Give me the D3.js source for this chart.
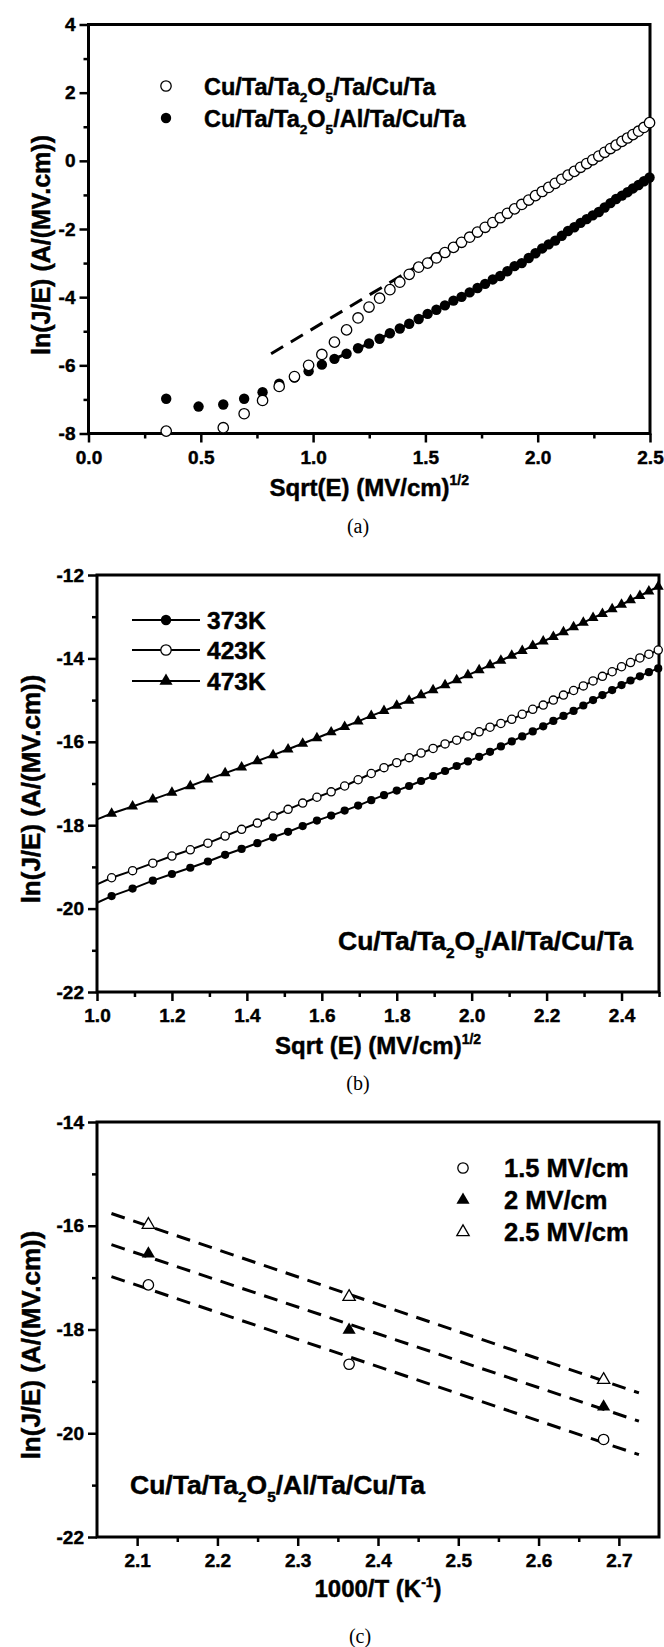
<!DOCTYPE html>
<html>
<head>
<meta charset="utf-8">
<script src="https://cdn.jsdelivr.net/npm/d3@7"></script>
<style>
    body { margin: 0; background: #fff; }
    text { font-family: "Liberation Sans", Arial, sans-serif; font-weight: bold; fill: #000; stroke: #000; stroke-width: 0.45px; }
    text.caption { font-family: "Liberation Serif", "Times New Roman", serif; font-weight: normal; stroke: none; }
</style>
</head>
<body>
<svg id="fig" width="664" height="1647"></svg>
<script>
"use strict";

// ---- (a) ln(J/E) vs sqrt(E), E stepped by 0.12 MV/cm ----
const sqrtE = [0.346, 0.490, 0.600, 0.693, 0.775, 0.849, 0.917, 0.980, 1.039, 1.095,
    1.149, 1.200, 1.249, 1.296, 1.342, 1.386, 1.428, 1.470, 1.510, 1.549,
    1.587, 1.625, 1.661, 1.697, 1.732, 1.766, 1.800, 1.833, 1.865, 1.897,
    1.929, 1.960, 1.990, 2.020, 2.049, 2.078, 2.107, 2.135, 2.163, 2.191,
    2.218, 2.245, 2.272, 2.298, 2.324, 2.349, 2.375, 2.400, 2.424, 2.449,
    2.473, 2.498];
const aOpen = [-7.93, null, -7.83, -7.42, -7.03, -6.62, -6.33, -6.00, -5.68, -5.32,
    -4.96, -4.61, -4.29, -4.03, -3.78, -3.56, -3.33, -3.12, -3.00, -2.85,
    -2.69, -2.54, -2.39, -2.24, -2.09, -1.95, -1.81, -1.67, -1.54, -1.41,
    -1.28, -1.15, -1.02, -0.90, -0.78, -0.66, -0.54, -0.42, -0.31, -0.19,
    -0.08, 0.03, 0.14, 0.25, 0.36, 0.46, 0.57, 0.67, 0.77, 0.87,
    0.98, 1.12];
const aFilled = [-6.98, -7.21, -7.15, -6.98, -6.79, -6.54, -6.36, -6.17, -5.98, -5.81,
    -5.66, -5.50, -5.36, -5.22, -5.06, -4.92, -4.78, -4.64, -4.49, -4.37,
    -4.24, -4.10, -3.99, -3.86, -3.73, -3.61, -3.48, -3.38, -3.24, -3.09,
    -3.00, -2.85, -2.71, -2.57, -2.45, -2.34, -2.20, -2.06, -1.95, -1.82,
    -1.71, -1.60, -1.50, -1.37, -1.24, -1.12, -1.02, -0.92, -0.81, -0.71,
    -0.60, -0.49];
const aFitX = [0.813, 2.5];
const aFitY = [-5.66, 1.0];
const aLegend = [
    ["Cu/Ta/Ta", ["2", "sub"], "O", ["5", "sub"], "/Ta/Cu/Ta"],
    ["Cu/Ta/Ta", ["2", "sub"], "O", ["5", "sub"], "/Al/Ta/Cu/Ta"],
];

// ---- (b) same plot at three temperatures (points from sqrt(E) = 1.039) ----
const bTemps = ["373K", "423K", "473K"];
const bStartX = 1.0;
const bStartY = [-19.86, -19.42, -17.86];
const b373 = [-19.70, -19.52, -19.33, -19.17, -19.02, -18.87, -18.71, -18.57, -18.43, -18.29,
    -18.16, -18.02, -17.89, -17.77, -17.65, -17.53, -17.40, -17.28, -17.17, -17.06,
    -16.94, -16.82, -16.70, -16.58, -16.47, -16.36, -16.24, -16.11, -15.99, -15.87,
    -15.75, -15.63, -15.50, -15.38, -15.26, -15.13, -15.00, -14.88, -14.76, -14.64,
    -14.53, -14.43, -14.33, -14.24];
const b423 = [-19.26, -19.09, -18.91, -18.74, -18.59, -18.43, -18.26, -18.10, -17.95, -17.78,
    -17.62, -17.47, -17.33, -17.20, -17.06, -16.91, -16.76, -16.62, -16.50, -16.38,
    -16.27, -16.16, -16.05, -15.96, -15.86, -15.76, -15.65, -15.56, -15.46, -15.34,
    -15.22, -15.12, -15.00, -14.88, -14.77, -14.66, -14.54, -14.43, -14.32, -14.20,
    -14.10, -13.99, -13.90, -13.80];
const b473 = [-17.72, -17.55, -17.38, -17.22, -17.06, -16.90, -16.75, -16.61, -16.46, -16.32,
    -16.18, -16.04, -15.91, -15.77, -15.64, -15.51, -15.38, -15.26, -15.13, -15.01,
    -14.88, -14.76, -14.64, -14.52, -14.40, -14.28, -14.16, -14.05, -13.93, -13.82,
    -13.70, -13.59, -13.48, -13.37, -13.25, -13.14, -13.03, -12.93, -12.82, -12.71,
    -12.60, -12.50, -12.39, -12.28];

// ---- (c) Arrhenius plot ----
const cX = [2.114, 2.364, 2.681];
const cFields = ["1.5 MV/cm", "2 MV/cm", "2.5 MV/cm"];
const c15 = [-17.14, -18.67, -20.12];
const c20 = [-16.54, -18.01, -19.49];
const c25 = [-15.98, -17.37, -18.97];
const cFitX = [2.068, 2.725];

const material = ["Cu/Ta/Ta", ["2", "sub"], "O", ["5", "sub"], "/Al/Ta/Cu/Ta"];
const yTitle = ["ln(J/E) (A/(MV.cm))"];

// layout
const pa = { left: 88.5, right: 650, top: 24.5, bottom: 433.5 };
const pb = { left: 97, right: 659, top: 575, bottom: 992 };
const pc = { left: 97, right: 659, top: 1122, bottom: 1537 };

const svg = d3.select("#fig");

// text with sub/superscripts: parts are strings or [string, "sub"|"sup"]
const addText = (g, x, y, parts, size, anchor) => {
    const t = g.append("text").attr("x", x).attr("y", y)
        .attr("font-size", size).attr("text-anchor", anchor || "start");
    let shift = 0;
    parts.forEach((p) => {
        const s = typeof p === "string" ? p : p[0];
        const kind = typeof p === "string" ? "" : p[1];
        const target = kind === "sub" ? size * 0.3 : (kind === "sup" ? -size * 0.42 : 0);
        t.append("tspan").attr("dy", target - shift)
            .attr("font-size", kind ? size * 0.58 : size).text(s);
        shift = target;
    });
    return t;
};

const drawAxes = (p, x, y, xMajor, xMinor, yMajor, yMinor, xFmt) => {
    const g = svg.append("g");
    const bx = g.append("g").attr("transform", `translate(0,${p.bottom})`);
    bx.append("g").call(d3.axisBottom(x).tickValues(xMinor).tickSize(5).tickFormat(""));
    bx.append("g").call(d3.axisBottom(x).tickValues(xMajor).tickSize(9).tickPadding(8).tickFormat(xFmt));
    const ly = g.append("g").attr("transform", `translate(${p.left},0)`);
    ly.append("g").call(d3.axisLeft(y).tickValues(yMinor).tickSize(5).tickFormat(""));
    ly.append("g").call(d3.axisLeft(y).tickValues(yMajor).tickSize(9).tickPadding(4).tickFormat((d) => String(d)));
    g.selectAll(".domain").remove();
    g.selectAll(".tick line").attr("stroke", "#000").attr("stroke-width", 2.5);
    g.selectAll(".tick text").attr("font-size", 19)
        .attr("font-family", "Liberation Sans, Arial, sans-serif").attr("font-weight", "bold");
    g.append("rect").attr("x", p.left).attr("y", p.top)
        .attr("width", p.right - p.left).attr("height", p.bottom - p.top)
        .attr("fill", "none").attr("stroke", "#000").attr("stroke-width", 3);
    return g;
};

const range = (a, b, s) => d3.range(Math.round((b - a) / s) + 1).map((i) => +(a + i * s).toFixed(3));

const openCircle = (sel, r) => sel.attr("r", r).attr("fill", "#fff").attr("stroke", "#000").attr("stroke-width", 1.3);
const fillCircle = (sel, r) => sel.attr("r", r).attr("fill", "#000");

// ================= (a) =================
{
    const x = d3.scaleLinear().domain([0, 2.5]).range([pa.left, pa.right]);
    const y = d3.scaleLinear().domain([-8, 4]).range([pa.bottom, pa.top]);
    drawAxes(pa, x, y, range(0, 2.5, 0.5), range(0.25, 2.25, 0.5), range(-8, 4, 2), range(-7, 3, 2), (d) => d.toFixed(1));

    const g = svg.append("g");
    const open = sqrtE.map((v, i) => ({ x: v, y: aOpen[i] })).filter((d) => d.y !== null);
    const filled = sqrtE.map((v, i) => ({ x: v, y: aFilled[i] }));
    const line = d3.line().x((d) => x(d.x)).y((d) => y(d.y));

    g.append("path").datum(aFitX.map((v, i) => ({ x: v, y: aFitY[i] })))
        .attr("d", line).attr("fill", "none").attr("stroke", "#000")
        .attr("stroke-width", 3).attr("stroke-dasharray", "14,9");
    g.append("path").datum(filled.filter((d) => d.x > 1.09))
        .attr("d", line).attr("fill", "none").attr("stroke", "#000")
        .attr("stroke-width", 3).attr("stroke-dasharray", "14,9");

    g.selectAll("circle.f").data(filled).join("circle").attr("class", "f")
        .attr("cx", (d) => x(d.x)).attr("cy", (d) => y(d.y)).call(fillCircle, 5.2);
    g.selectAll("circle.o").data(open).join("circle").attr("class", "o")
        .attr("cx", (d) => x(d.x)).attr("cy", (d) => y(d.y)).call(openCircle, 5.2);

    // legend
    svg.append("circle").attr("cx", 166).attr("cy", 86).call(openCircle, 5.2);
    svg.append("circle").attr("cx", 166).attr("cy", 118).call(fillCircle, 5.2);
    addText(svg, 204, 95, aLegend[0], 23.5);
    addText(svg, 204, 127, aLegend[1], 23.5);

    addText(svg, (pa.left + pa.right) / 2, pa.bottom + 62, ["Sqrt(E) (MV/cm)", ["1/2", "sup"]], 24, "middle");
    addText(svg, 0, 0, yTitle, 25, "middle")
        .attr("transform", `translate(50,245) rotate(-90)`);
    svg.append("text").attr("class", "caption").attr("x", 358).attr("y", 533)
        .attr("font-size", 20).attr("text-anchor", "middle").text("(a)");
}

// ================= (b) =================
{
    const x = d3.scaleLinear().domain([1.0, 2.5]).range([pb.left, pb.right]);
    const y = d3.scaleLinear().domain([-22, -12]).range([pb.bottom, pb.top]);
    drawAxes(pb, x, y, range(1.0, 2.4, 0.2), range(1.1, 2.5, 0.2), range(-22, -12, 2), range(-21, -13, 2), (d) => d.toFixed(1));

    const g = svg.append("g");
    const xs = sqrtE.slice(8);
    const series = [b373, b423, b473].map((vals) => vals.map((v, j) => ({ x: xs[j], y: v })));
    const line = d3.line().x((d) => x(d.x)).y((d) => y(d.y));
    const tri = (size) => d3.symbol().type(d3.symbolTriangle).size(size)();

    series.forEach((s, i) => {
        g.append("path").datum([{ x: bStartX, y: bStartY[i] }].concat(s))
            .attr("d", line).attr("fill", "none").attr("stroke", "#000").attr("stroke-width", 2);
    });
    g.selectAll("circle.b373").data(series[0]).join("circle").attr("class", "b373")
        .attr("cx", (d) => x(d.x)).attr("cy", (d) => y(d.y)).call(fillCircle, 4.1);
    g.selectAll("circle.b423").data(series[1]).join("circle").attr("class", "b423")
        .attr("cx", (d) => x(d.x)).attr("cy", (d) => y(d.y)).call(openCircle, 4.1);
    g.selectAll("path.b473").data(series[2]).join("path").attr("class", "b473")
        .attr("d", tri(52)).attr("transform", (d) => `translate(${x(d.x)},${y(d.y)})`);

    // legend
    const rows = [620, 650, 681];
    rows.forEach((ry, i) => {
        svg.append("line").attr("x1", 132).attr("x2", 200).attr("y1", ry).attr("y2", ry)
            .attr("stroke", "#000").attr("stroke-width", 2);
        if (i === 0) svg.append("circle").attr("cx", 166).attr("cy", ry).call(fillCircle, 5.2);
        if (i === 1) svg.append("circle").attr("cx", 166).attr("cy", ry).call(openCircle, 5.2);
        if (i === 2) svg.append("path").attr("d", tri(75)).attr("transform", `translate(166,${ry})`);
        addText(svg, 207, ry + 8.5, [bTemps[i]], 24.5);
    });

    addText(svg, 338, 950, material, 26.5);
    addText(svg, (pb.left + pb.right) / 2, pb.bottom + 62, ["Sqrt (E) (MV/cm)", ["1/2", "sup"]], 24, "middle");
    addText(svg, 0, 0, yTitle, 26, "middle")
        .attr("transform", `translate(40,789) rotate(-90)`);
    svg.append("text").attr("class", "caption").attr("x", 358).attr("y", 1090)
        .attr("font-size", 20).attr("text-anchor", "middle").text("(b)");
}

// ================= (c) =================
{
    const x = d3.scaleLinear().domain([2.05, 2.75]).range([pc.left, pc.right]);
    const y = d3.scaleLinear().domain([-22, -14]).range([pc.bottom, pc.top]);
    drawAxes(pc, x, y, range(2.1, 2.7, 0.1), range(2.15, 2.65, 0.1), range(-22, -14, 2), range(-21, -15, 2), (d) => d.toFixed(1));

    const g = svg.append("g");
    const line = d3.line().x((d) => x(d.x)).y((d) => y(d.y));
    const tri = (size) => d3.symbol().type(d3.symbolTriangle).size(size)();
    const sets = [c15, c20, c25];

    // least squares fit line for each field
    sets.forEach((vals) => {
        const mx = d3.mean(cX);
        const my = d3.mean(vals);
        const slope = d3.sum(cX, (v, i) => (v - mx) * (vals[i] - my)) / d3.sum(cX, (v) => (v - mx) ** 2);
        g.append("path").datum(cFitX.map((v) => ({ x: v, y: my + slope * (v - mx) })))
            .attr("d", line).attr("fill", "none").attr("stroke", "#000")
            .attr("stroke-width", 3).attr("stroke-dasharray", "14,9");
    });

    g.selectAll("circle.c15").data(cX.map((v, i) => ({ x: v, y: c15[i] }))).join("circle")
        .attr("class", "c15").attr("cx", (d) => x(d.x)).attr("cy", (d) => y(d.y)).call(openCircle, 5.2);
    g.selectAll("path.c20").data(cX.map((v, i) => ({ x: v, y: c20[i] }))).join("path")
        .attr("class", "c20").attr("d", tri(75))
        .attr("transform", (d) => `translate(${x(d.x)},${y(d.y)})`);
    g.selectAll("path.c25").data(cX.map((v, i) => ({ x: v, y: c25[i] }))).join("path")
        .attr("class", "c25").attr("d", tri(66)).attr("fill", "#fff").attr("stroke", "#000").attr("stroke-width", 1.3)
        .attr("transform", (d) => `translate(${x(d.x)},${y(d.y)})`);

    // legend
    const rows = [1168, 1200, 1232];
    svg.append("circle").attr("cx", 463).attr("cy", rows[0]).call(openCircle, 5.2);
    svg.append("path").attr("d", tri(75)).attr("transform", `translate(463,${rows[1]})`);
    svg.append("path").attr("d", tri(66)).attr("fill", "#fff").attr("stroke", "#000").attr("stroke-width", 1.3)
        .attr("transform", `translate(463,${rows[2]})`);
    rows.forEach((ry, i) => addText(svg, 504, ry + 9, [cFields[i]], 25.5));

    addText(svg, 130, 1494, material, 26.5);
    addText(svg, (pc.left + pc.right) / 2, pc.bottom + 60, ["1000/T (K", ["-1", "sup"], ")"], 24, "middle");
    addText(svg, 0, 0, yTitle, 26, "middle")
        .attr("transform", `translate(40,1345) rotate(-90)`);
    svg.append("text").attr("class", "caption").attr("x", 360).attr("y", 1643)
        .attr("font-size", 20).attr("text-anchor", "middle").text("(c)");
}
</script>
</body>
</html>
